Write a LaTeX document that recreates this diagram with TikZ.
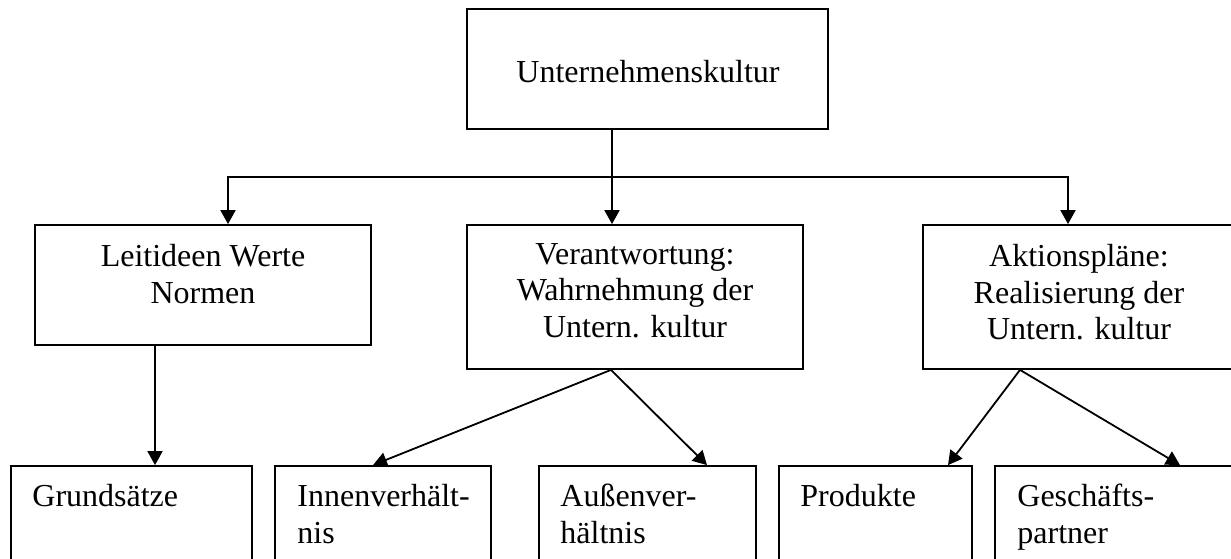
\documentclass[tikz,border=0pt]{standalone}
\usepackage{fontspec}
\setmainfont{Liberation Serif}
\usetikzlibrary{arrows.meta}
\begin{document}
\begin{tikzpicture}[x=0.5pt,y=-0.5pt,
  box/.style={draw, line width=0.9pt, inner sep=0pt},
  txt/.style={inner sep=0pt, font=\fontsize{16}{18.25}\selectfont, align=center},
  ltxt/.style={inner sep=0pt, font=\fontsize{16}{18.5}\selectfont, align=left, anchor=north west},
  ln/.style={line width=0.9pt},
  arr/.style={line width=0.9pt, -{Triangle[length=7pt,width=7.5pt]}}]
\useasboundingbox (0,0) rectangle (1231,558);
% boxes
\node[box, minimum width=180.5pt, minimum height=60pt] (top) at (647.5,69) {};
\node[box, minimum width=168pt, minimum height=60pt] (lw) at (203,285) {};
\node[box, minimum width=168pt, minimum height=72pt] (mid) at (635,297) {};
\node[box, minimum width=156pt, minimum height=72pt] (rt) at (1079,297) {};
\node[box, minimum width=120.5pt, minimum height=67pt] (grund) at (131.5,533) {};
\node[box, minimum width=108pt, minimum height=67pt] (innen) at (383,533) {};
\node[box, minimum width=108.5pt, minimum height=67pt] (aussen) at (647.5,533) {};
\node[box, minimum width=96.5pt, minimum height=67pt] (prod) at (875.5,533) {};
\node[box, minimum width=122.5pt, minimum height=67pt] (gesch) at (1117.5,533) {};
% texts
\node[txt, anchor=base] (topT) at (648,82) {Unternehmenskultur};
\node[txt, anchor=north] (lwT) at (203,244) {Leitideen Werte\\Normen};
\node[txt, anchor=north] (midT) at (635,243) {Verantwortung:\\Wahrnehmung der\\Untern. kultur};
\node[txt, anchor=north] (rtT) at (1079,244) {Aktionspläne:\\Realisierung der\\Untern. kultur};
\node[ltxt] (grundT) at (32,484) {Grundsätze};
\node[ltxt] (innenT) at (297,484) {Innenverhält-\\nis};
\node[ltxt] (aussenT) at (560,484) {Außenver-\\hältnis};
\node[ltxt] (prodT) at (800,484) {Produkte};
\node[ltxt] (geschT) at (1017,484) {Geschäfts-\\partner};
% junction coordinates
\coordinate (j0) at (612,177);
\coordinate (jL) at (228,177);
\coordinate (jR) at (1068,177);
\coordinate (gx) at (155,400);
\coordinate (mv) at (611,369);
\coordinate (rv) at (1020,369);
\coordinate (ti) at (373,466);
\coordinate (ta) at (707,466);
\coordinate (tp) at (948,466);
\coordinate (tg) at (1180,466);
% connectors
\draw[ln] (top.south -| j0) -- (j0);
\draw[arr] (j0) -- (j0 |- mid.north);
\draw[arr] (j0) -- (jL) -- (jL |- lw.north);
\draw[arr] (j0) -- (jR) -- (jR |- rt.north);
\draw[arr] (lw.south -| gx) -- (gx |- grund.north);
\draw[arr] (mid.south -| mv) -- (ti |- innen.north);
\draw[arr] (mid.south -| mv) -- (ta |- aussen.north);
\draw[arr] (rt.south -| rv) -- (tp |- prod.north);
\draw[arr] (rt.south -| rv) -- (tg |- gesch.north);
\end{tikzpicture}
\end{document}
